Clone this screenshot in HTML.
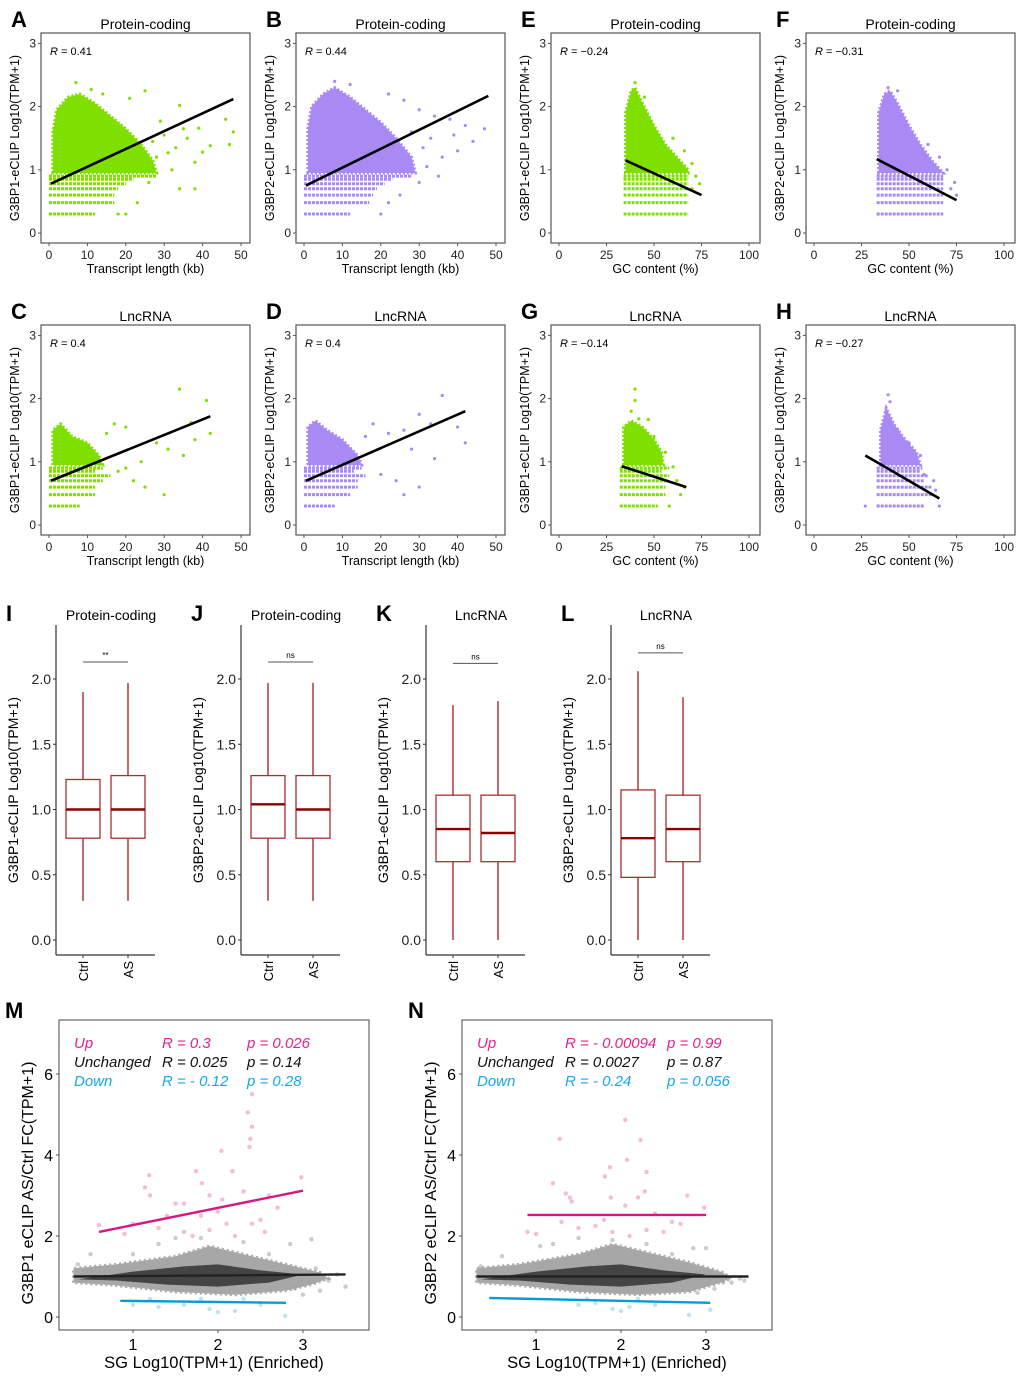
<!DOCTYPE html>
<html><head><meta charset="utf-8"><style>
html,body{margin:0;padding:0;background:#fff}
svg{display:block;font-family:"Liberation Sans",Arial,sans-serif}
</style></head><body>
<svg id="fig" width="1020" height="1377" viewBox="0 0 1020 1377"></svg>
<script>
// ---------- DATA ----------
const scatterPanels = ["A","B","E","F","C","D","G","H"];
const scatterTitles = ["Protein-coding","Protein-coding","Protein-coding","Protein-coding","LncRNA","LncRNA","LncRNA","LncRNA"];
const scatterYLabels = ["G3BP1-eCLIP Log10(TPM+1)","G3BP2-eCLIP Log10(TPM+1)","G3BP1-eCLIP Log10(TPM+1)","G3BP2-eCLIP Log10(TPM+1)","G3BP1-eCLIP Log10(TPM+1)","G3BP2-eCLIP Log10(TPM+1)","G3BP1-eCLIP Log10(TPM+1)","G3BP2-eCLIP Log10(TPM+1)"];
const scatterR = ["R = 0.41","R = 0.44","R = \u22120.24","R = \u22120.31","R = 0.4","R = 0.4","R = \u22120.14","R = \u22120.27"];
const scatterKind = ["len","len","gc","gc","len","len","gc","gc"];
const lenTicks = [0,10,20,30,40,50];
const gcTicks = [0,25,50,75,100];
const yTicksScatter = [0,1,2,3];
const bandLevels = [0.3,0.48,0.6,0.7,0.78,0.85,0.9];
const bandRanges = [
 [[0,12],[0,17],[0,17],[0,18],[0,20],[0,22],[0,28]],
 [[0,12],[0,17],[0,18],[0,19],[0,21],[0,23],[0,28]],
 [[34,68],[34,68],[34,68],[34,68],[34,68],[34,68],[34,68]],
 [[33,68],[33,68],[33,68],[33,68],[33,68],[33,68],[33,68]],
 [[0,8],[0,12],[0,12],[0,14],[0,16],[0,12],[0,14]],
 [[0,8],[0,12],[0,14],[0,14],[0,16],[0,13],[0,15]],
 [[32,52],[32,56],[32,56],[32,57],[32,58],[32,54],[32,58]],
 [[33,58],[33,62],[33,60],[33,58],[33,60],[33,56],[33,57]]
];
const clouds = [
 [[1,0.95],[1,1.6],[2,1.95],[5,2.15],[8,2.2],[12,2.05],[16,1.85],[20,1.65],[24,1.4],[27,1.15],[28,0.95]],
 [[1,0.95],[1,1.65],[2,2.0],[5,2.2],[8,2.3],[12,2.15],[16,1.95],[20,1.75],[24,1.5],[28,1.2],[29,0.95]],
 [[35,0.95],[35,1.9],[38,2.25],[40,2.3],[44,2.05],[50,1.7],[56,1.4],[62,1.2],[68,1.0],[68,0.95]],
 [[34,0.95],[34,1.9],[37,2.2],[40,2.25],[44,2.05],[50,1.7],[56,1.4],[62,1.15],[68,0.95]],
 [[1,0.95],[1,1.5],[3,1.6],[6,1.4],[10,1.3],[13,1.1],[14,0.95]],
 [[1,0.95],[1,1.55],[3,1.65],[6,1.5],[10,1.35],[14,1.1],[15,0.95]],
 [[34,0.95],[34,1.55],[38,1.65],[44,1.55],[50,1.35],[54,1.15],[55,0.95]],
 [[35,0.95],[35,1.5],[38,1.85],[42,1.6],[48,1.35],[54,1.15],[56,0.95]]
];
const outliers = [
 [[7,2.38],[11,2.27],[14,2.2],[25,2.25],[21,2.13],[34,2.02],[29,1.77],[35,1.65],[39,1.66],[46,1.8],[48,1.6],[42,1.38],[47,1.4],[38,1.12],[32,1.0],[34,0.7],[38,0.7],[26,0.8],[23,0.48],[20,0.3],[18,0.3],[31,1.27],[40,1.28],[36,1.5],[27,1.45],[30,1.55],[33,1.35],[28,1.2]],
 [[8,2.4],[12,2.35],[22,2.2],[26,2.1],[30,1.95],[34,1.85],[38,1.8],[42,1.7],[47,1.65],[44,1.45],[40,1.3],[36,1.2],[32,1.05],[35,0.9],[30,0.8],[25,0.6],[22,0.48],[20,0.3],[33,1.5],[28,1.6],[39,1.55],[31,1.35]],
 [[40,2.38],[45,2.15],[60,1.5],[66,1.3],[70,1.1],[72,0.9],[74,0.78],[70,0.7]],
 [[39,2.3],[44,2.25],[60,1.4],[66,1.2],[70,1.0],[74,0.8],[72,0.7],[75,0.6]],
 [[34,2.15],[41,1.97],[37,1.62],[20,1.55],[28,1.3],[31,1.2],[35,1.1],[24,1.0],[17,1.6],[15,1.45],[20,0.9],[22,0.7],[25,0.6],[30,0.48],[42,1.45],[38,1.35],[18,0.85]],
 [[36,2.05],[30,1.75],[26,1.5],[22,1.45],[33,1.6],[40,1.55],[42,1.3],[28,1.2],[34,1.05],[18,1.6],[16,1.4],[20,0.8],[24,0.7],[30,0.6],[26,0.48]],
 [[40,2.15],[40,1.97],[38,1.8],[42,1.68],[47,1.67],[50,1.4],[56,1.15],[60,0.92],[58,0.3],[64,0.48],[66,0.6],[62,0.7]],
 [[39,2.06],[40,1.95],[38,1.8],[44,1.5],[50,1.3],[56,1.1],[58,0.8],[63,0.7],[64,0.55],[66,0.3],[27,0.3],[61,0.6]]
];
const regLines = [
 [[0.5,0.78],[48,2.12]],[[0.5,0.75],[48,2.17]],[[35,1.15],[75,0.6]],[[33,1.17],[75,0.52]],
 [[0.5,0.7],[42,1.72]],[[0.5,0.7],[42,1.8]],[[33,0.93],[67,0.6]],[[27,1.1],[66,0.42]]
];
const scatterColor = ["#7fe000","#a98af5","#7fe000","#a98af5","#7fe000","#a98af5","#7fe000","#a98af5"];

const boxPanels = ["I","J","K","L"];
const boxTitles = ["Protein-coding","Protein-coding","LncRNA","LncRNA"];
const boxYLabels = ["G3BP1-eCLIP Log10(TPM+1)","G3BP2-eCLIP Log10(TPM+1)","G3BP1-eCLIP Log10(TPM+1)","G3BP2-eCLIP Log10(TPM+1)"];
const boxCategories = ["Ctrl","AS"];
const boxCtrl = [[0.3,0.78,1.0,1.23,1.9],[0.3,0.78,1.04,1.26,1.97],[0,0.6,0.85,1.11,1.8],[0,0.48,0.78,1.15,2.06]];
const boxAS = [[0.3,0.78,1.0,1.26,1.97],[0.3,0.78,1.0,1.26,1.97],[0,0.6,0.82,1.11,1.83],[0,0.6,0.85,1.11,1.86]];
const sigLabels = ["**","ns","ns","ns"];
const sigLevels = [2.13,2.13,2.12,2.2];
const boxYTicks = [0,0.5,1.0,1.5,2.0];

const fcPanels = ["M","N"];
const fcYLabels = ["G3BP1 eCLIP AS/Ctrl FC(TPM+1)","G3BP2 eCLIP AS/Ctrl FC(TPM+1)"];
const fcXTicks = [1,2,3];
const fcYTicks = [0,2,4,6];
const fcStats = [
 [["Up","R = 0.3","p = 0.026"],["Unchanged","R = 0.025","p = 0.14"],["Down","R = - 0.12","p = 0.28"]],
 [["Up","R = - 0.00094","p = 0.99"],["Unchanged","R = 0.0027","p = 0.87"],["Down","R = - 0.24","p = 0.056"]]
];
const fcUpLine = [[[0.6,2.1],[3.0,3.12]],[[0.9,2.52],[3.0,2.52]]];
const fcUnchLine = [[[0.3,1.0],[3.5,1.05]],[[0.3,1.0],[3.5,1.0]]];
const fcDownLine = [[[0.85,0.4],[2.8,0.35]],[[0.45,0.47],[3.05,0.35]]];
const fcCloud = [
 [[0.3,0.85],[0.3,1.2],[0.8,1.3],[1.5,1.5],[1.9,1.75],[2.3,1.55],[2.8,1.3],[3.2,1.1],[3.3,0.95],[3.1,0.8],[2.8,0.65],[2.2,0.55],[1.5,0.62],[0.8,0.78]],
 [[0.3,0.85],[0.3,1.2],[0.8,1.3],[1.5,1.55],[1.9,1.8],[2.3,1.6],[2.8,1.35],[3.2,1.1],[3.3,0.95],[3.1,0.8],[2.8,0.62],[2.2,0.55],[1.5,0.62],[0.8,0.78]]
];
const fcCore = [
 [[0.35,0.93],[1.0,1.12],[1.6,1.25],[2.0,1.3],[2.5,1.15],[3.0,1.05],[2.6,0.85],[2.0,0.75],[1.4,0.8],[0.8,0.9]],
 [[0.35,0.93],[1.0,1.12],[1.6,1.25],[2.0,1.3],[2.5,1.15],[3.0,1.05],[2.6,0.85],[2.0,0.75],[1.4,0.8],[0.8,0.9]]
];
const fcUpPts = [
 [[2.4,5.5],[2.35,5.05],[2.4,4.7],[2.38,4.4],[2.37,4.2],[2.04,4.1],[2.17,3.6],[1.19,3.5],[1.74,3.6],[1.14,3.2],[1.81,3.3],[2.98,3.45],[1.2,3.0],[1.5,2.8],[1.6,2.8],[1.9,3.0],[2.05,2.9],[2.3,3.1],[2.6,3.0],[2.7,2.7],[0.6,2.27],[1.0,2.3],[1.3,2.2],[1.6,2.1],[1.9,2.15],[2.1,2.3],[2.2,2.0],[2.5,2.4],[2.55,2.1],[0.9,2.05],[1.4,2.5],[1.8,2.5],[2.0,2.6],[2.4,2.3],[1.7,2.0]],
 [[2.05,4.87],[2.23,4.37],[1.28,4.4],[2.07,3.88],[1.87,3.7],[1.81,3.47],[2.3,3.58],[1.2,3.3],[1.35,3.05],[1.4,2.95],[1.42,2.85],[2.28,3.1],[2.78,3.0],[1.88,2.95],[2.05,2.75],[2.2,2.95],[2.98,2.7],[2.6,2.35],[2.4,2.55],[1.3,2.35],[1.0,2.05],[0.9,2.1],[1.5,2.2],[1.7,2.25],[1.9,2.1],[2.1,2.0],[2.3,2.15],[1.8,2.4],[2.5,2.1],[2.7,2.3]]
];
const fcDownPts = [
 [[1.0,0.3],[1.3,0.25],[1.6,0.3],[1.9,0.2],[2.0,0.12],[2.2,0.15],[2.5,0.3],[2.79,0.03],[1.2,0.45],[2.3,0.45],[1.8,0.45]],
 [[1.5,0.3],[1.7,0.35],[1.9,0.2],[2.0,0.15],[2.1,0.25],[2.4,0.3],[2.8,0.05],[3.05,0.18],[2.2,0.45],[1.6,0.45]]
];
const fcGreyPts = [
 [[1.3,1.8],[1.5,1.95],[1.8,1.95],[2.3,1.85],[2.6,1.55],[2.85,1.8],[3.1,1.92],[3.5,0.75],[3.3,0.9],[3.0,0.55],[2.9,0.7],[0.35,1.3],[0.5,1.55],[3.15,1.2],[1.0,1.55],[3.4,1.05],[3.2,0.65]],
 [[1.2,1.8],[1.5,1.95],[1.9,1.9],[2.3,1.8],[2.6,1.55],[2.85,1.7],[3.0,1.7],[3.45,0.9],[3.2,0.85],[3.1,0.7],[2.9,0.6],[0.35,1.25],[0.6,1.5],[3.3,0.85],[1.05,1.75],[3.4,0.95]]
];

// ---------- DRAWING ----------
const NS="http://www.w3.org/2000/svg";
const svg=document.getElementById('fig');
function el(tag,attrs,parent,text){const e=document.createElementNS(NS,tag);for(const k in attrs)e.setAttribute(k,attrs[k]);if(text!==undefined)e.textContent=text;(parent||svg).appendChild(e);return e;}

function drawScatter(i){
  const col=i%4, row=Math.floor(i/4);
  const bx=[41,296,551,806][col], by=33+row*292, W=209, H=210;
  const g=el('g',{},svg);
  
  
  const y0=by+200, yk=63.2;
  const isLen=scatterKind[i]==='len';
  const x0=bx+8, xk=isLen?3.84:1.9;
  const sx=v=>x0+v*xk, sy=v=>y0-v*yk;
  const c=scatterColor[i];
  const lt=el('text',{x:bx-30,y:by-6,'font-size':22,'font-weight':'bold'},g,scatterPanels[i]);
   
  const tt=el('text',{x:bx+W/2,y:by-4,'font-size':14,'text-anchor':'middle'},g,scatterTitles[i]);
   
  const fr=el('rect',{x:bx,y:by,width:W,height:H,fill:'none',stroke:'#555','stroke-width':1.2},g);
   
  const cp=clouds[i].map(p=>sx(p[0])+','+sy(p[1])).join(' ');
  const cl=el('polygon',{points:cp,fill:c,stroke:c,'stroke-width':3,'stroke-dasharray':'2 2'},g);
   
  bandLevels.forEach((lv,j)=>{
    const r=bandRanges[i][j];
    const b=el('line',{x1:sx(r[0]),x2:sx(r[1]),y1:sy(lv),y2:sy(lv),stroke:c,'stroke-width':3,'stroke-dasharray':'3 1'},g);
     
  });
  outliers[i].forEach(p=>{
    const d=el('circle',{cx:sx(p[0]),cy:sy(p[1]),r:1.6,fill:c},g);
     
  });
  const L=regLines[i];
  const rl=el('line',{x1:sx(L[0][0]),y1:sy(L[0][1]),x2:sx(L[1][0]),y2:sy(L[1][1]),stroke:'#000','stroke-width':2.6},g);
   
  const rt=el('text',{x:bx+9,y:by+22,'font-size':11},g);
   
  rt.innerHTML='<tspan font-style="italic">R</tspan>'+scatterR[i].slice(1);
  yTicksScatter.forEach(v=>{
    el('line',{x1:bx-3,x2:bx,y1:sy(v),y2:sy(v),stroke:'#555'},g);
    const t=el('text',{x:bx-5,y:sy(v)+4,'font-size':12,'text-anchor':'end',fill:'#222'},g,v);
     
  });
  (isLen?lenTicks:gcTicks).forEach(v=>{
    el('line',{x1:sx(v),x2:sx(v),y1:by+H,y2:by+H+3,stroke:'#555'},g);
    const t=el('text',{x:sx(v),y:by+H+16,'font-size':12,'text-anchor':'middle',fill:'#222'},g,v);
     
  });
  const xt=el('text',{x:bx+W/2,y:by+H+30,'font-size':12.5,'text-anchor':'middle'},g,isLen?'Transcript length (kb)':'GC content (%)');
   
  const yt=el('text',{x:0,y:0,'font-size':12.5,'text-anchor':'middle',transform:`translate(${bx-22},${by+H/2}) rotate(-90)`},g,scatterYLabels[i]);
   
}
for(let i=0;i<8;i++)drawScatter(i);

function drawBox(i){
  const ax=56+i*185, y0=940, yk=130.5, top=625, bot=955;
  const sy=v=>y0-v*yk;
  const g=el('g',{},svg);
  
  
  const lt=el('text',{x:ax-50,y:621,'font-size':22,'font-weight':'bold'},g,boxPanels[i]);
   
  const tt=el('text',{x:ax+55,y:620,'font-size':14,'text-anchor':'middle'},g,boxTitles[i]);
   
  el('line',{x1:ax,x2:ax,y1:top,y2:bot,stroke:'#333','stroke-width':1.2},g);
  el('line',{x1:ax,x2:ax+99,y1:bot,y2:bot,stroke:'#333','stroke-width':1.2},g);
  boxYTicks.forEach(v=>{
    el('line',{x1:ax-3,x2:ax,y1:sy(v),y2:sy(v),stroke:'#333'},g);
    const t=el('text',{x:ax-5,y:sy(v)+5,'font-size':14,'text-anchor':'end',fill:'#222'},g,v.toFixed(1));
     
  });
  [boxCtrl[i],boxAS[i]].forEach((d,j)=>{
    const cx=ax+27+j*45, hw=17;
    const bg=el('g',{},g);
    
    
    el('line',{x1:cx,x2:cx,y1:sy(d[0]),y2:sy(d[1]),stroke:'#a01818','stroke-width':1.3},bg);
    el('line',{x1:cx,x2:cx,y1:sy(d[3]),y2:sy(d[4]),stroke:'#a01818','stroke-width':1.3},bg);
    el('rect',{x:cx-hw,y:sy(d[3]),width:hw*2,height:sy(d[1])-sy(d[3]),fill:'#fff',stroke:'#a83030','stroke-width':1.3},bg);
    el('line',{x1:cx-hw,x2:cx+hw,y1:sy(d[2]),y2:sy(d[2]),stroke:'#8b0000','stroke-width':2.4},bg);
    el('line',{x1:cx,x2:cx,y1:bot,y2:bot+3,stroke:'#333'},g);
    const t=el('text',{x:0,y:0,'font-size':13,'text-anchor':'end',transform:`translate(${cx+5},${bot+6}) rotate(-90)`},g,boxCategories[j]);
     
  });
  const sl=el('line',{x1:ax+27,x2:ax+72,y1:sy(sigLevels[i]),y2:sy(sigLevels[i]),stroke:'#555','stroke-width':1},g);
   
  const st=el('text',{x:ax+49.5,y:sy(sigLevels[i])-4,'font-size':8,'text-anchor':'middle'},g,sigLabels[i]);
   
  const yt=el('text',{x:0,y:0,'font-size':14,'text-anchor':'middle',transform:`translate(${ax-38},${790}) rotate(-90)`},g,boxYLabels[i]);
   
}
for(let i=0;i<4;i++)drawBox(i);

function drawFC(i){
  const bx=[59,462][i], by=1020, W=310, H=310, xk=85;
  const sxx=v=>(i===0?133:536)+(v-1)*xk;
  const sy=v=>1317-v*40.5;
  const g=el('g',{},svg);
  
  
  const lt=el('text',{x:bx-54,y:by-2,'font-size':22,'font-weight':'bold'},g,fcPanels[i]);
   
  const fr=el('rect',{x:bx,y:by,width:W,height:H,fill:'none',stroke:'#666','stroke-width':1.2},g);
   
  const cl=el('polygon',{points:fcCloud[i].map(p=>sxx(p[0])+','+sy(p[1])).join(' '),fill:'#8a8a8a','fill-opacity':0.75,stroke:'#aaa','stroke-width':3,'stroke-dasharray':'2 3'},g);
   
  const co=el('polygon',{points:fcCore[i].map(p=>sxx(p[0])+','+sy(p[1])).join(' '),fill:'#333','fill-opacity':0.85},g);
   
  fcGreyPts[i].forEach(p=>{const d=el('circle',{cx:sxx(p[0]),cy:sy(p[1]),r:2.2,fill:'#999','fill-opacity':0.5},g);
     });
  fcUpPts[i].forEach(p=>{const d=el('circle',{cx:sxx(p[0]),cy:sy(p[1]),r:2.2,fill:'#f0a0c8','fill-opacity':0.7},g);
     });
  fcDownPts[i].forEach(p=>{const d=el('circle',{cx:sxx(p[0]),cy:sy(p[1]),r:2.2,fill:'#9fd8f0','fill-opacity':0.7},g);
     });
  [[fcUpLine[i],'#d6187f','up-line'],[fcUnchLine[i],'#222','unchanged-line'],[fcDownLine[i],'#0a9ad6','down-line']].forEach(a=>{
    const L=a[0];
    const l=el('line',{x1:sxx(L[0][0]),y1:sy(L[0][1]),x2:sxx(L[1][0]),y2:sy(L[1][1]),stroke:a[1],'stroke-width':2.4},g);
     
  });
  const cols=['#e8208a','#111','#15a8e8'];
  fcStats[i].forEach((r,j)=>{
    r.forEach((s,k)=>{
      const t=el('text',{x:[bx+15,bx+103,i===0?bx+188:bx+205][k],y:by+28+j*19,'font-size':15,'font-style':'italic',fill:cols[j]},g,s);
       
    });
  });
  fcYTicks.forEach(v=>{
    el('line',{x1:bx-3,x2:bx,y1:sy(v),y2:sy(v),stroke:'#555'},g);
    const t=el('text',{x:bx-6,y:sy(v)+6,'font-size':16,'text-anchor':'end'},g,v);
     
  });
  fcXTicks.forEach(v=>{
    el('line',{x1:sxx(v),x2:sxx(v),y1:by+H,y2:by+H+3,stroke:'#555'},g);
    const t=el('text',{x:sxx(v),y:by+H+20,'font-size':16,'text-anchor':'middle'},g,v);
     
  });
  const xt=el('text',{x:bx+W/2,y:1368,'font-size':16.5,'text-anchor':'middle'},g,'SG Log10(TPM+1) (Enriched)');
   
  const yt=el('text',{x:0,y:0,'font-size':16,'text-anchor':'middle',transform:`translate(${bx-26},${by+H/2+8}) rotate(-90)`},g,fcYLabels[i]);
   
}
for(let i=0;i<2;i++)drawFC(i);
</script>
</body></html>
